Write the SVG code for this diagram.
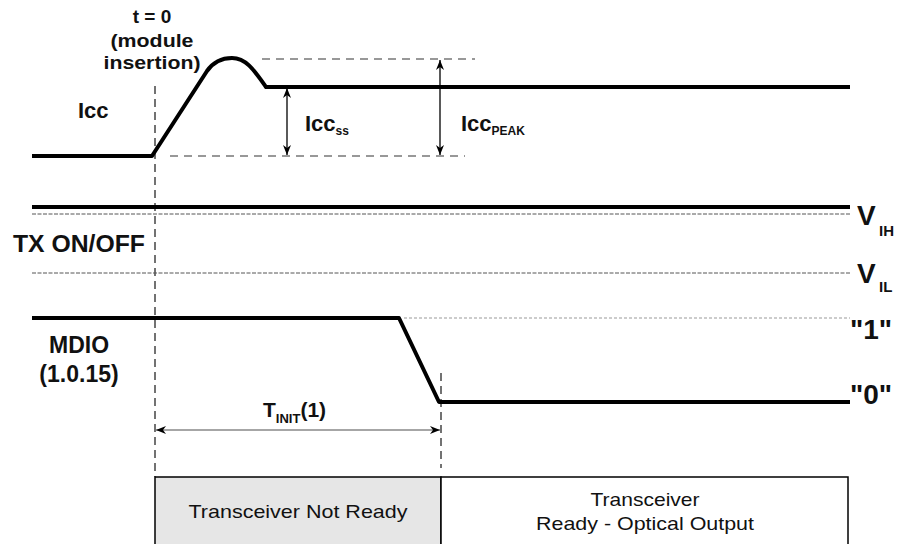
<svg xmlns="http://www.w3.org/2000/svg" width="900" height="544" viewBox="0 0 900 544">
<defs>
<marker id="ah" viewBox="0 0 10 8" refX="10" refY="4" markerWidth="10" markerHeight="8" markerUnits="userSpaceOnUse" orient="auto-start-reverse">
<path d="M0,0 L10,4 L0,8 L3,4 z" fill="#000"/>
</marker>
<style>
.sig{fill:none;stroke:#000;stroke-width:4;stroke-linejoin:round}
.vdash{fill:none;stroke:#444;stroke-width:1.5;stroke-dasharray:8,5}
.hdash{fill:none;stroke:#333;stroke-width:1.2;stroke-dasharray:8,6}
.thr{fill:none;stroke:#555;stroke-width:1;stroke-dasharray:4,1.5}
.lvl{fill:none;stroke:#999;stroke-width:1.2;stroke-dasharray:3,2}
.arr{fill:none;stroke:#000;stroke-width:1.3}
.tarr{fill:none;stroke:#888;stroke-width:1.5}
text{font-family:"Liberation Sans",Arial,sans-serif;fill:#111}
.b{font-weight:bold}
.lbl{font-size:22px;font-weight:bold}
.big{font-size:28px;font-weight:bold}
.sub{font-size:12px;font-weight:bold}
.box{font-size:19px}
</style>
</defs>

<g id="time-markers">
<path class="vdash" d="M155,86 V477"/>
<path class="vdash" d="M441,373 V468"/>
</g>

<g id="icc-signal">
<path class="hdash" d="M262,59 H475"/>
<path class="hdash" d="M170,156 H465"/>
<path class="sig" d="M32,156 L152,156 L207,71 C214,61 222,58 232,58 C246,58 254,70 266,87 L850,87"/>
<text class="lbl" x="78" y="118">Icc</text>
<text class="b" x="152" y="23" font-size="19" text-anchor="middle">t = 0</text>
<text class="b" x="152" y="47" font-size="19" text-anchor="middle" textLength="83" lengthAdjust="spacingAndGlyphs">(module</text>
<text class="b" x="152" y="69" font-size="19" text-anchor="middle" textLength="97" lengthAdjust="spacingAndGlyphs">insertion)</text>
<text class="lbl" x="305" y="131">Icc<tspan class="sub" dy="4">ss</tspan></text>
<text class="lbl" x="461" y="131">Icc<tspan class="sub" dy="4">PEAK</tspan></text>
</g>

<g id="tx-signal">
<path class="sig" d="M32,207 H850"/>
<path class="thr" d="M32,214 H850"/>
<path class="thr" d="M32,273 H850"/>
<text class="b" x="13" y="252" font-size="23" textLength="132" lengthAdjust="spacingAndGlyphs">TX ON/OFF</text>
<text class="big" x="857" y="225">V</text>
<text class="b" x="879" y="236" font-size="15">IH</text>
<text class="big" x="857" y="283">V</text>
<text class="b" x="879" y="292" font-size="15">IL</text>
</g>

<g id="mdio-signal">
<path class="lvl" d="M404,318 H850"/>
<path class="sig" d="M32,318 H399 L439,402 H850"/>
<text class="b" x="79" y="353" font-size="23" text-anchor="middle">MDIO</text>
<text class="b" x="79" y="382" font-size="23" text-anchor="middle">(1.0.15)</text>
<text class="big" x="850" y="339">"1"</text>
<text class="big" x="850" y="404">"0"</text>
</g>

<g id="connectors">
<line class="arr" x1="287" y1="88" x2="287" y2="155" marker-start="url(#ah)" marker-end="url(#ah)"/>
<line class="arr" x1="440" y1="60" x2="440" y2="155" marker-start="url(#ah)" marker-end="url(#ah)"/>
<line class="tarr" x1="156" y1="430" x2="440" y2="430" marker-start="url(#ah)" marker-end="url(#ah)"/>
</g>

<g id="tinit-label">
<text class="b" x="263" y="417" font-size="21">T<tspan font-size="13" dy="6">INIT</tspan><tspan dy="-6">(1)</tspan></text>
</g>

<g id="not-ready">
<rect x="155" y="477" width="286" height="80" fill="#e6e6e6" stroke="#000" stroke-width="1.5"/>
<text class="box" x="298" y="518" text-anchor="middle" textLength="219" lengthAdjust="spacingAndGlyphs">Transceiver Not Ready</text>
</g>

<g id="ready">
<rect x="441" y="477" width="407" height="80" fill="#fff" stroke="#000" stroke-width="1.5"/>
<text class="box" x="645" y="506" text-anchor="middle" textLength="109" lengthAdjust="spacingAndGlyphs">Transceiver</text>
<text class="box" x="645" y="530" text-anchor="middle" textLength="218" lengthAdjust="spacingAndGlyphs">Ready - Optical Output</text>
</g>
</svg>
